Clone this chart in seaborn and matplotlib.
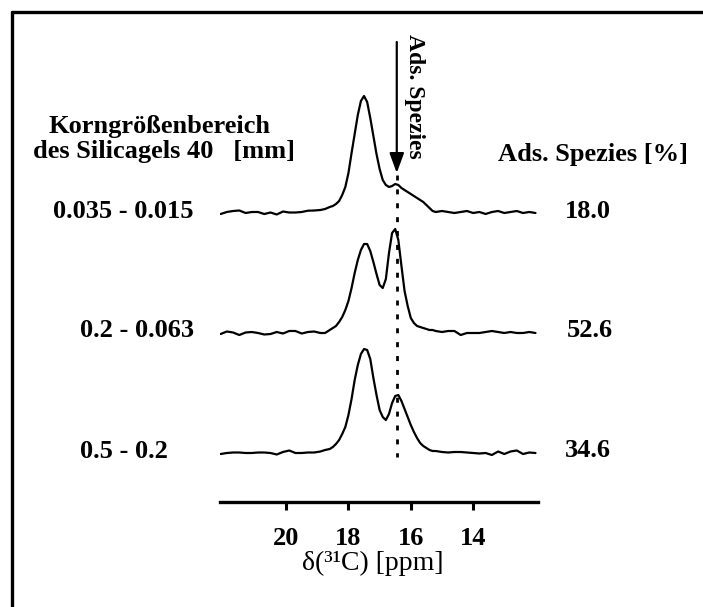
import numpy as np
import pandas as pd
import matplotlib
matplotlib.use("Agg")
import matplotlib.pyplot as plt
import seaborn as sns
from matplotlib.lines import Line2D

# ---------------- data ----------------
ppm = [22.1, 21.9, 21.7, 21.5, 21.3, 21.1, 20.9, 20.7, 20.5, 20.3, 20.1, 19.9,
       19.7, 19.5, 19.3, 19.1, 18.9, 18.75, 18.6, 18.5, 18.4, 18.3, 18.2, 18.1,
       18.0, 17.9, 17.8, 17.7, 17.6, 17.5, 17.4, 17.3, 17.2, 17.1, 17.0, 16.9,
       16.8, 16.7, 16.6, 16.5, 16.4, 16.3, 16.2, 16.1, 16.0, 15.9, 15.8, 15.7,
       15.6, 15.5, 15.4, 15.3, 15.2, 15.0, 14.8, 14.6, 14.4, 14.2, 14.0, 13.8,
       13.6, 13.4, 13.2, 13.0, 12.8, 12.6, 12.4, 12.2, 12.0]

# 0.035 - 0.015 mm
spec_fine = [-1, 1, 2, 2.5, 0, 1, 1, -1, 0.5, -1.5, 1.5, 0.5,
             0.5, 1, 2.3, 2.5, 3, 4, 6, 7, 9, 12, 18, 26,
             40, 60, 79, 98, 112, 117, 111, 95, 77, 59, 44, 33,
             28, 26, 27, 29, 28, 25, 23, 21, 19, 17, 15, 13,
             11, 8, 5, 2, 1, 2, 1, 0, 1, 2, 0, 1,
             -1, 1, 2, 0, 1, 2, 0, 1, 0]
# 0.2 - 0.063 mm
spec_mid = [-1, 1.5, 0.5, -2, 0.5, 1, 0, -1.5, -1, 1, -0.5, 2,
            2, -0.5, 1, 1.5, 0, 0, 3, 5, 7, 11, 16, 23,
            32, 45, 60, 73, 83, 89, 89, 82, 71, 59, 48, 45,
            54, 80, 100, 104, 93, 67, 42, 27, 15, 10, 7, 6,
            5, 4, 3, 3, 2, 1, 2, 2, -2, 0, 0, 0,
            1, 2, 1, 0, 1, 0, 0, 1, 0]
# 0.5 - 0.2 mm
spec_coarse = [-1, 0, 0.5, 0.5, 0, 0, 0.5, 0.5, 0, -1.5, 1, 2.5,
               0, 0, 0.5, 0.5, 1.5, 3, 4, 6, 9, 13, 19, 26,
               38, 54, 73, 88, 99, 104, 103, 94, 75, 58, 43, 36,
               33, 39, 50, 57, 58, 52, 44, 36, 28, 21, 15, 10,
               7, 5, 3, 2, 2, 1, 0.5, 1, 1, 0.5, 0, -0.5,
               0, -2, 1.5, -1, 1.5, 2.5, -1, 0.5, 0]

size_ranges = ["0.035 - 0.015", "0.2 - 0.063", "0.5 - 0.2"]
ads_percent = ["18.0", "52.6", "34.6"]
tick_values = [20, 18, 16, 14]
ads_ppm = 16.45

# ---------------- layout helpers (pixel -> figure fraction) ----------------
W, H = 703, 607
def fx(px):
    return px / W
def fy(py):
    return 1 - py / H

sns.set_theme(style="white")
plt.rcParams['font.family'] = ['Liberation Serif', 'DejaVu Serif']

fig = plt.figure(figsize=(7.03, 6.07), dpi=100)
fig.patch.set_facecolor("white")

AX_BOTTOM_PX = 501.7
AX_TOP_PX = 30.0
ax = fig.add_axes([fx(220), fy(AX_BOTTOM_PX), fx(538) - fx(220), fy(AX_TOP_PX) - fy(AX_BOTTOM_PX)])
ax.set_facecolor("white")

baseline_px = [213, 333, 453]
rows = []
for lab, vals, bpx in zip(size_ranges, [spec_fine, spec_mid, spec_coarse], baseline_px):
    off = AX_BOTTOM_PX - bpx
    for p, v in zip(ppm, vals):
        rows.append({"ppm": p, "y": v + off, "sample": lab})
df = pd.DataFrame(rows)

sns.lineplot(data=df, x="ppm", y="y", units="sample", estimator=None,
             color="black", linewidth=1.6, sort=False, ax=ax)
for ln in ax.get_lines():
    ln.set_solid_joinstyle("round")
    ln.set_solid_capstyle("round")

ax.set_xlim(22.12, 11.92)
ax.set_ylim(0, AX_BOTTOM_PX - AX_TOP_PX)

# dotted marker line for adsorbed species
ax.plot([ads_ppm, ads_ppm], [AX_BOTTOM_PX - 175, AX_BOTTOM_PX - 457],
        color="black", linewidth=2.0, linestyle=(0, (1.8, 3.2)))

# arrow
ax.annotate("", xy=(ads_ppm, AX_BOTTOM_PX - 173), xytext=(ads_ppm, AX_BOTTOM_PX - 42),
            arrowprops=dict(arrowstyle="-|>,head_length=0.6,head_width=0.22",
                            color="black", lw=1.6, mutation_scale=20,
                            shrinkA=0, shrinkB=0),
            annotation_clip=False)

# axes styling
for s in ["left", "right", "top"]:
    ax.spines[s].set_visible(False)
ax.spines["bottom"].set_linewidth(2.4)
ax.spines["bottom"].set_color("black")
ax.set_yticks([])
ax.set_xticks(tick_values)
ax.set_xticklabels([str(t) for t in tick_values])
ax.tick_params(axis="x", bottom=True, direction="out", length=5.8, width=2.2,
               pad=12.5, labelsize=19, color="black", labelcolor="black")
for lbl in ax.get_xticklabels():
    lbl.set_fontweight("bold")
ax.set_xlabel("")
ax.set_ylabel("")

# texts
bold = dict(fontweight="bold", fontsize=19, color="black", va="baseline", ha="left")
fig.text(fx(48), fy(133), "Korngrößenbereich", **bold)
fig.text(fx(33), fy(158), "des Silicagels 40   [mm]", **bold)
fig.text(fx(498), fy(161), "Ads. Spezies [%]", **bold)

label_x = [53, 80, 80]
label_base = [218, 337, 458]
value_x = [565, 567, 565]
value_base = [218, 337, 457]
for lab, lx, lb in zip(size_ranges, label_x, label_base):
    fig.text(fx(lx), fy(lb), lab, **bold)
for val, vx, vb in zip(ads_percent, value_x, value_base):
    fig.text(fx(vx), fy(vb), val, **bold)

fig.text(fx(414), fy(96), "Ads. Spezies", rotation=270, ha="center", va="center",
         fontweight="bold", fontsize=17, color="black")

fig.text(fx(373), fy(570), "δ(³¹C) [ppm]", ha="center", va="baseline",
         fontsize=20, color="black")

# frame (top and left edges)
fig.add_artist(Line2D([fx(11.7), 1.0], [fy(12), fy(12)], color="black", lw=2.4))
fig.add_artist(Line2D([fx(11.7), fx(11.7)], [fy(12), 0.0], color="black", lw=2.4))

fig.savefig("out.png", dpi=100, facecolor="white")
